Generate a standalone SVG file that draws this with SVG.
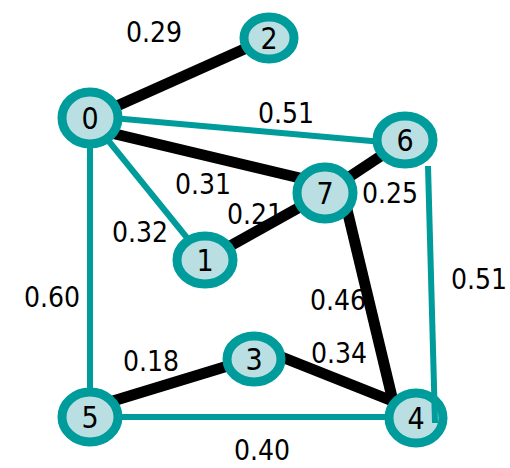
<svg xmlns="http://www.w3.org/2000/svg" width="510" height="468" viewBox="0 0 510 468">
<style>
.b{stroke:#000;stroke-width:11;fill:none}
.t{stroke:#009b9b;stroke-width:6;fill:none}
.n ellipse{fill:#badfe3;stroke:#009b9b;stroke-width:9}
.n text{font-family:"DejaVu Sans Condensed","DejaVu Sans",sans-serif;font-size:30px;fill:#000;text-anchor:middle}
.l{font-family:"DejaVu Sans Condensed","DejaVu Sans",sans-serif;font-size:28px;fill:#000;text-anchor:middle}
</style>
<rect width="510" height="468" fill="#fff"/>
<g id="connectors">
<line class="b" x1="90" y1="118" x2="269" y2="38"/>
<line class="t" x1="90" y1="116" x2="405" y2="144"/>
<line class="b" x1="90" y1="128" x2="325" y2="184"/>
<line class="t" x1="90" y1="118" x2="205" y2="260"/>
<line class="t" x1="90" y1="118" x2="90" y2="417"/>
<line class="b" x1="205" y1="260" x2="325" y2="193"/>
<line class="b" x1="325" y1="193" x2="405" y2="140"/>
<line class="b" x1="343" y1="193" x2="397" y2="418"/>
<line class="b" x1="254" y1="346" x2="410" y2="408"/>
<line class="b" x1="90" y1="408" x2="254" y2="358"/>
<line class="t" x1="90" y1="417" x2="416" y2="417"/>
</g>
<g id="node0" class="n"><ellipse cx="90" cy="118" rx="28" ry="26"/><text x="90" y="129">0</text></g>
<g id="node2" class="n"><ellipse cx="269" cy="38" rx="25" ry="21"/><text x="269" y="49">2</text></g>
<g id="node6" class="n"><ellipse cx="405" cy="140" rx="28" ry="24"/><text x="405" y="151">6</text></g>
<g id="node7" class="n"><ellipse cx="325" cy="193" rx="28" ry="26"/><text x="325" y="204">7</text></g>
<g id="node1" class="n"><ellipse cx="205" cy="260" rx="28" ry="24"/><text x="205" y="271">1</text></g>
<g id="node3" class="n"><ellipse cx="254" cy="359" rx="27" ry="23"/><text x="254" y="370">3</text></g>
<g id="node5" class="n"><ellipse cx="90" cy="417" rx="28" ry="25"/><text x="90" y="428">5</text></g>
<g id="node4" class="n"><ellipse cx="416" cy="418" rx="27" ry="25"/><text x="416" y="429">4</text></g>
<g id="connectors-over">
<line class="t" x1="428" y1="166" x2="435" y2="423"/>
</g>
<g id="labels">
<text class="l" x="154" y="42">0.29</text>
<text class="l" x="286" y="123">0.51</text>
<text class="l" x="203" y="194">0.31</text>
<text class="l" x="255" y="224">0.21</text>
<text class="l" x="390" y="203">0.25</text>
<text class="l" x="140" y="242">0.32</text>
<text class="l" x="52" y="307">0.60</text>
<text class="l" x="338" y="310">0.46</text>
<text class="l" x="479" y="289">0.51</text>
<text class="l" x="339" y="363">0.34</text>
<text class="l" x="151" y="371">0.18</text>
<text class="l" x="262" y="460">0.40</text>
</g>
</svg>
